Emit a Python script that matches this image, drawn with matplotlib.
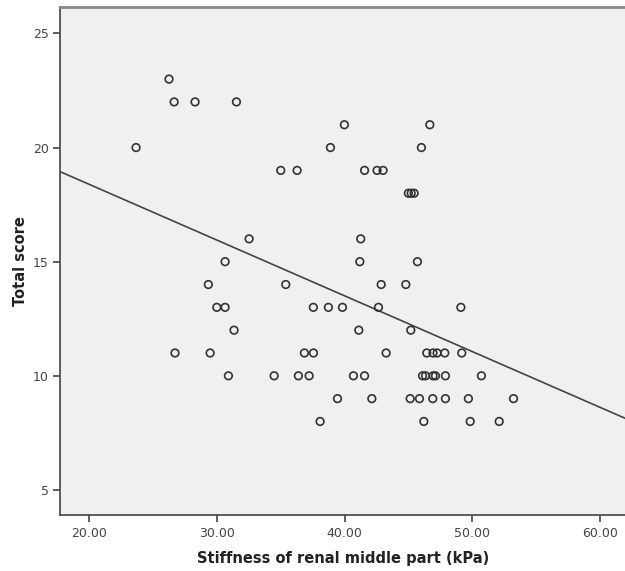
import numpy as np
import matplotlib
matplotlib.use("Agg")
import matplotlib.pyplot as plt

# values, one list per y level
score_23 = [26.26]
score_22 = [26.66, 28.30, 31.54]
score_21 = [39.99, 46.68]
score_20 = [23.68, 38.90, 46.02]
score_19 = [35.01, 36.29, 41.57, 42.55, 43.02]
score_18 = [45.00, 45.22, 45.45]
score_16 = [32.53, 41.27]
score_15 = [30.65, 41.20, 45.71]
score_14 = [29.34, 35.40, 42.87, 44.80]
score_13 = [30.00, 30.65, 37.56, 38.74, 39.84, 42.66, 49.11]
score_12 = [31.35, 41.12, 45.19]
score_11 = [26.73, 29.48, 36.86, 37.57, 43.26, 46.44, 46.93, 47.25, 47.85, 49.18]
score_10 = [30.91, 34.49, 36.39, 37.23, 40.70, 41.57, 46.11, 46.34, 46.93, 47.12, 47.90, 50.72]
score_9 = [39.45, 42.14, 45.14, 45.87, 46.91, 47.90, 49.70, 53.23]
score_8 = [38.09, 46.21, 49.84, 52.11]

rows = {23: score_23, 22: score_22, 21: score_21, 20: score_20, 19: score_19,
        18: score_18, 16: score_16, 15: score_15, 14: score_14, 13: score_13,
        12: score_12, 11: score_11, 10: score_10, 9: score_9, 8: score_8}

x = np.concatenate([np.array(v) for v in rows.values()])
y = np.concatenate([np.full(len(v), k) for k, v in rows.items()])

xticks = [20, 30, 40, 50, 60]
yticks = [5, 10, 15, 20, 25]

fig = plt.figure(figsize=(6.25, 5.71), dpi=100)
ax = fig.add_axes([0.0965, 0.098, 0.9035, 0.889])
ax.set_facecolor("#f0f0f0")

ax.scatter(x, y, s=30, facecolors="none", edgecolors="#333333", linewidths=1.2, zorder=3)

# least squares line
slope, intercept = np.polyfit(x, y, 1)
xl = np.array([17.75, 61.96])
ax.plot(xl, intercept + slope * xl, color="#444444", lw=1.2, zorder=2)

ax.set_xlim(17.75, 61.96)
ax.set_ylim(3.9, 26.14)
ax.set_xticks(xticks)
ax.set_xticklabels(["%.2f" % t for t in xticks])
ax.set_yticks(yticks)

for s in ["left", "bottom"]:
    ax.spines[s].set_color("#444444")
    ax.spines[s].set_linewidth(1.2)
ax.spines["top"].set_color("#888888")
ax.spines["top"].set_linewidth(2)
ax.spines["right"].set_visible(False)

ax.tick_params(direction="out", length=5, width=1.2, color="#444444",
               labelsize=9, labelcolor="#444444")

ax.set_xlabel("Stiffness of renal middle part (kPa)", fontsize=10.5, fontweight="bold",
              color="#222222", labelpad=8)
ax.set_ylabel("Total score", fontsize=10.5, fontweight="bold", color="#222222", labelpad=3)

fig.savefig("out.png", dpi=100)
